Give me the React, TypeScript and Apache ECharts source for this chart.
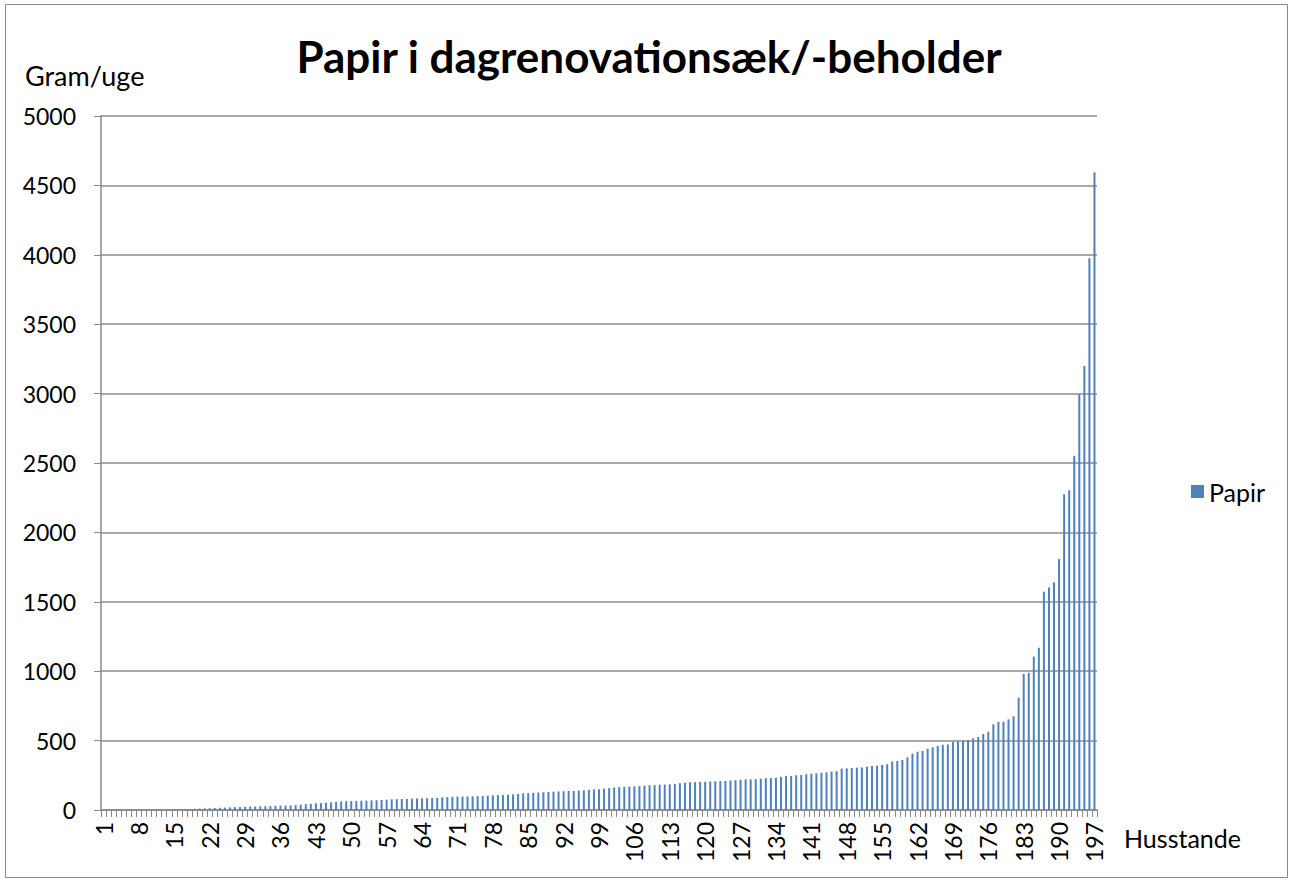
import React, { useEffect, useRef } from "react";
import * as echarts from "echarts";

const title = "Papir i dagrenovationsæk/-beholder";
const yAxisTitle = "Gram/uge";
const xAxisTitle = "Husstande";
const seriesName = "Papir";

const papirValues: number[] = [
  0, 0, 0, 0, 0, 0, 0, 0, 0, 0, 0, 0, 0, 0,
  2, 4, 5, 7, 9, 10, 12, 13, 15, 16, 17, 19, 20, 21, 22, 24,
  25, 26, 27, 28, 30, 31, 32, 33, 35, 38, 42, 45, 48, 50, 52, 55,
  58, 62, 63, 64, 66, 67, 68, 69, 70, 72, 74, 77, 78, 79, 80, 82,
  83, 84, 85, 86, 88, 91, 93, 95, 96, 97, 98, 99, 100, 101, 104, 106,
  107, 108, 110, 113, 116, 120, 122, 124, 126, 128, 130, 132, 134, 135, 137, 138,
  140, 142, 145, 148, 150, 154, 158, 162, 165, 167, 169, 170, 172, 175, 178, 180,
  182, 183, 185, 188, 193, 197, 200, 201, 202, 203, 205, 207, 208, 210, 213, 215,
  218, 221, 221, 222, 226, 229, 230, 232, 238, 245, 246, 250, 252, 258, 262, 264,
  268, 271, 276, 280, 298, 300, 302, 305, 307, 312, 317, 320, 325, 330, 350, 353,
  360, 380, 406, 420, 425, 442, 452, 461, 470, 472, 490, 495, 499, 504, 516, 526,
  548, 564, 617, 634, 636, 653, 675, 809, 980, 989, 1105, 1169, 1573, 1604, 1640, 1808,
  2274, 2303, 2553, 2997, 3199, 3975, 4594,
];

const categories: string[] = papirValues.map((_, i) => String(i + 1));

const FONT = "Lato, 'Noto Sans', sans-serif";

export default function App() {
  const ref = useRef<HTMLDivElement>(null);

  useEffect(() => {
    if (!ref.current) return;
    const chart = echarts.init(ref.current, undefined, { renderer: "svg" });
    chart.setOption({
      animation: false,
      backgroundColor: "#ffffff",
      textStyle: { fontFamily: FONT, color: "#000" },
      graphic: [
        {
          type: "rect",
          shape: { x: 5.5, y: 4.5, width: 1282, height: 873 },
          style: { fill: "none", stroke: "#888888", lineWidth: 1 },
          silent: true,
        },
        {
          type: "text",
          x: 649,
          y: 56,
          style: {
            text: title,
            fontFamily: FONT,
            fontWeight: "bold",
            fontSize: 44,
            fill: "#000",
            align: "center",
            verticalAlign: "middle",
          },
        },
        {
          type: "text",
          x: 25,
          y: 75,
          style: {
            text: yAxisTitle,
            fontFamily: FONT,
            fontSize: 27,
            fill: "#000",
            align: "left",
            verticalAlign: "middle",
          },
        },
        {
          type: "text",
          x: 1124,
          y: 838,
          style: {
            text: xAxisTitle,
            fontFamily: FONT,
            fontSize: 25,
            fill: "#000",
            align: "left",
            verticalAlign: "middle",
          },
        },
      ],
      legend: {
        data: [seriesName],
        left: 1186,
        top: 474,
        orient: "vertical",
        icon: "rect",
        itemWidth: 13,
        itemHeight: 13,
        itemGap: 8,
        textStyle: { fontFamily: FONT, fontSize: 25, color: "#000" },
      },
      grid: { left: 101, top: 116, width: 996, height: 694, containLabel: false },
      xAxis: {
        type: "category",
        data: categories,
        boundaryGap: true,
        axisLine: { show: true, lineStyle: { color: "#888888", width: 1.5 } },
        axisTick: {
          show: true,
          interval: 0,
          alignWithLabel: false,
          length: 7,
          lineStyle: { color: "#888888", width: 1 },
        },
        axisLabel: {
          interval: 6,
          rotate: 90,
          margin: 12,
          fontFamily: FONT,
          fontSize: 23,
          color: "#000",
        },
        splitLine: { show: false },
      },
      yAxis: {
        type: "value",
        min: 0,
        max: 5000,
        interval: 500,
        axisLine: { show: true, lineStyle: { color: "#888888", width: 1.5 } },
        axisTick: { show: true, length: 7, lineStyle: { color: "#888888", width: 1 } },
        axisLabel: {
          margin: 25,
          fontFamily: FONT,
          fontSize: 23,
          color: "#000",
          formatter: (v: number) => String(v),
        },
        splitLine: { show: true, lineStyle: { color: "#8c8c8c", width: 1.5 } },
      },
      series: [
        {
          name: seriesName,
          type: "bar",
          data: papirValues,
          barWidth: 2,
          itemStyle: { color: "#4F81BD" },
        },
      ],
    });
    return () => chart.dispose();
  }, []);

  return (
    <div
      ref={ref}
      style={{ position: "fixed", left: 0, top: 0, width: 1292, height: 881 }}
    />
  );
}
